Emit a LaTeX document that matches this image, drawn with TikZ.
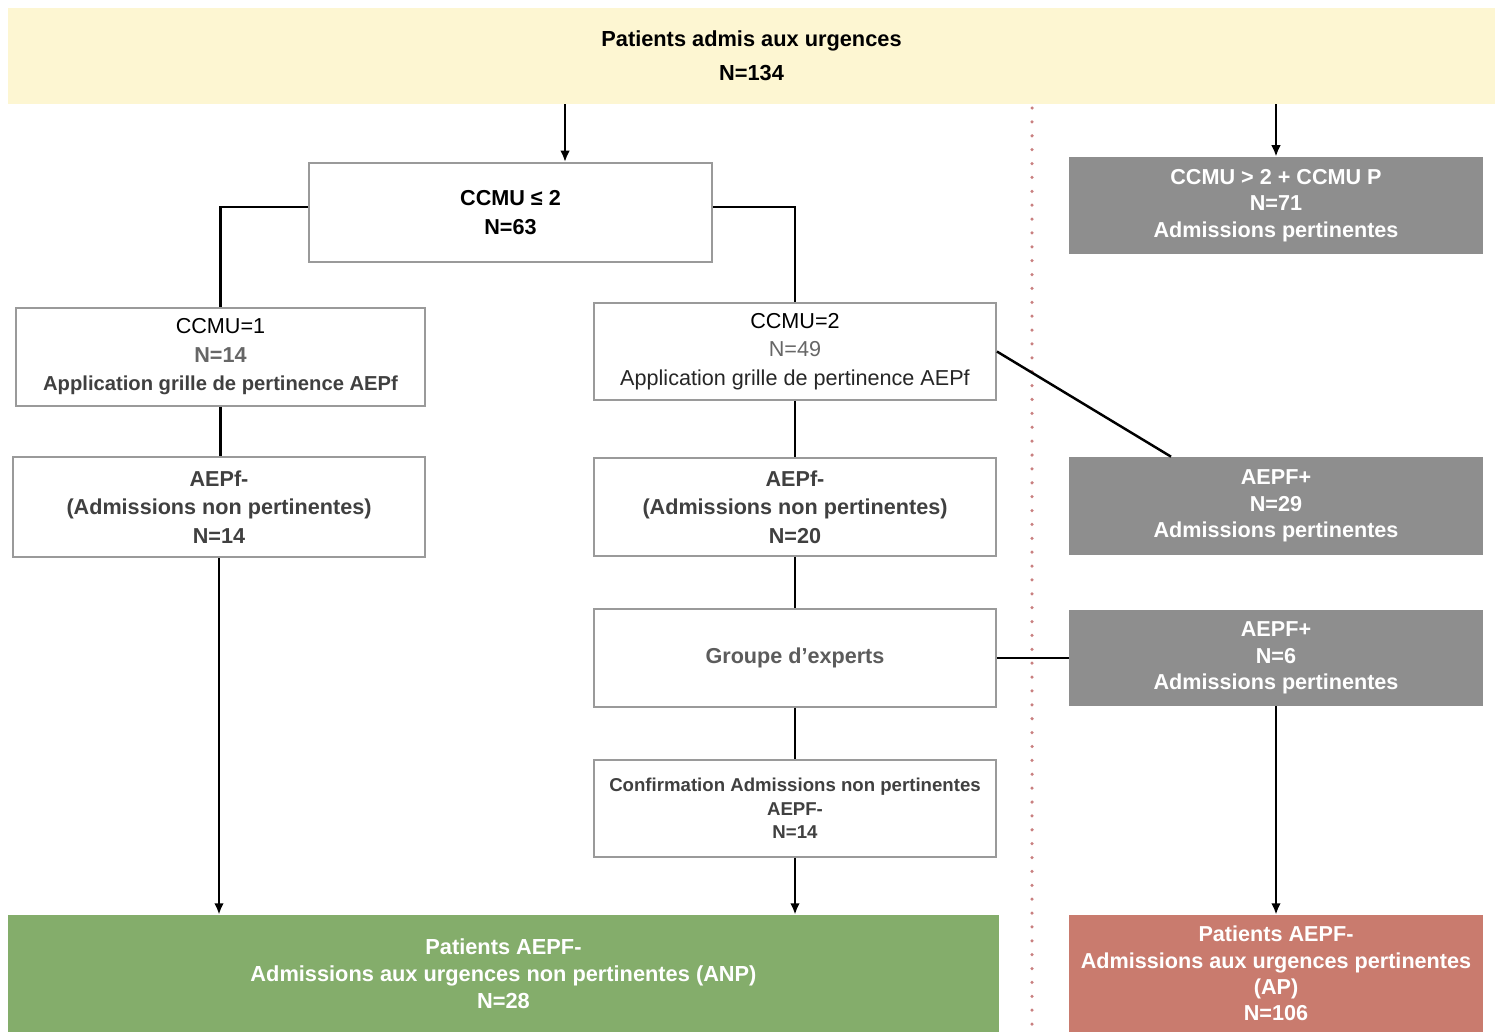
\documentclass[tikz,border=0pt]{standalone}
\usepackage{fontspec}
\setmainfont{Liberation Sans}
\usetikzlibrary{arrows.meta}
\definecolor{bandyellow}{HTML}{FDF6D2}
\definecolor{boxline}{HTML}{9A9A9A}
\definecolor{boxgrey}{HTML}{8E8E8E}
\definecolor{anpgreen}{HTML}{84AD6B}
\definecolor{apred}{HTML}{C97B6E}
\definecolor{splitred}{HTML}{C98080}
\definecolor{ngrey}{HTML}{666666}
\definecolor{txtgrey}{HTML}{404040}
\tikzset{
  box/.style={draw=boxline,line width=1.1pt,fill=white,align=center,inner sep=0pt,
    font=\fontsize{12.3}{16.2}\selectfont},
  greybox/.style={fill=boxgrey,text=white,align=center,inner sep=0pt,
    font=\fontsize{12.3}{15.2}\selectfont\bfseries},
  link/.style={line width=1.4pt},
  arrowlink/.style={link,-{Latex[length=6.5pt,width=5.5pt]}},
}

\begin{document}
\begin{tikzpicture}[x=0.02cm,y=-0.02cm]
\useasboundingbox (0,0) rectangle (1500,1032);
% separation between the two branches
\draw[splitred,line width=2pt,line cap=round,dash pattern=on 0pt off 7.9pt] (1032,108) -- (1032,1032);
% boxes
\node[fill=bandyellow,align=center,inner sep=0pt,minimum width=29.74cm,minimum height=1.92cm,
  font=\fontsize{12.4}{19.3}\selectfont\bfseries] (top) at (751.5,56) {Patients admis aux urgences\\N=134};
\node[box,minimum width=8.06cm,minimum height=1.98cm,font=\fontsize{12.3}{16.4}\selectfont\bfseries]
  (ccmulow) at (510.5,212.5) {CCMU ≤ 2\\N=63};
\node[greybox,minimum width=8.28cm,minimum height=1.94cm] (ccmuhigh) at (1276,205.5)
  {CCMU > 2 + CCMU P\\N=71\\Admissions pertinentes};
\node[box,minimum width=8.18cm,minimum height=1.96cm] (ccmuone) at (220.5,357)
  {CCMU=1\\{\bfseries\color{ngrey}N=14}\\{\fontsize{11.5}{16.2}\selectfont\bfseries\color{txtgrey}Application grille de pertinence AEPf}};
\node[box,minimum width=8.04cm,minimum height=1.94cm] (ccmutwo) at (795,351.5)
  {CCMU=2\\{\color{ngrey}N=49}\\{\color{black!85}Application grille de pertinence AEPf}};
\node[box,minimum width=8.24cm,minimum height=2cm,text=txtgrey,font=\fontsize{12.3}{16.2}\selectfont\bfseries]
  (aepfone) at (219,507) {AEPf-\\(Admissions non pertinentes)\\N=14};
\node[box,minimum width=8.04cm,minimum height=1.96cm,text=txtgrey,font=\fontsize{12.3}{16.2}\selectfont\bfseries]
  (aepftwo) at (795,507) {AEPf-\\(Admissions non pertinentes)\\N=20};
\node[greybox,minimum width=8.28cm,minimum height=1.96cm] (aepfplus) at (1276,506)
  {AEPF+\\N=29\\Admissions pertinentes};
\node[box,minimum width=8.04cm,minimum height=1.96cm,text=ngrey!90!black,font=\fontsize{12.3}{16.2}\selectfont\bfseries]
  (experts) at (795,658) {Groupe d’experts};
\node[greybox,minimum width=8.28cm,minimum height=1.92cm] (aepfsix) at (1276,658)
  {AEPF+\\N=6\\Admissions pertinentes};
\node[box,minimum width=8.04cm,minimum height=1.94cm,text=txtgrey,font=\fontsize{10.6}{13.4}\selectfont\bfseries]
  (confirm) at (795,808.5) {Confirmation Admissions non pertinentes\\AEPF-\\N=14};
\node[fill=anpgreen,text=white,align=center,inner sep=0pt,minimum width=19.82cm,minimum height=2.34cm,
  font=\fontsize{12.4}{15.2}\selectfont\bfseries] (anp) at (503.5,973.5)
  {Patients AEPF-\\Admissions aux urgences non pertinentes (ANP)\\N=28};
\node[fill=apred,text=white,align=center,inner sep=0pt,minimum width=8.28cm,minimum height=2.34cm,
  font=\fontsize{12.3}{15}\selectfont\bfseries] (ap) at (1276,973.5)
  {Patients AEPF-\\Admissions aux urgences pertinentes\\(AP)\\N=106};
% connectors
\draw[arrowlink] (top.south -| 565,0) -- (ccmulow.north -| 565,0);
\draw[arrowlink] (top.south -| ccmuhigh.north) -- (ccmuhigh.north);
\draw[link] ([yshift=0.11cm]ccmulow.west) -| (ccmuone.north);
\draw[link] ([yshift=0.11cm]ccmulow.east) -| (ccmutwo.north);
\draw[link] (ccmuone.south) -- (ccmuone.south |- aepfone.north);
\draw[link] (ccmutwo.south) -- (aepftwo.north);
\draw[link] (ccmutwo.east) -- (aepfplus.north -| 1171,0);
\draw[link] (aepftwo.south) -- (experts.north);
\draw[link] (experts.east) -- (aepfsix.west);
\draw[link] (experts.south) -- (confirm.north);
\draw[arrowlink] (aepfone.south) -- (aepfone.south |- anp.north);
\draw[arrowlink] (confirm.south) -- (confirm.south |- anp.north);
\draw[arrowlink] (aepfsix.south) -- (ap.north);
\end{tikzpicture}
\end{document}
